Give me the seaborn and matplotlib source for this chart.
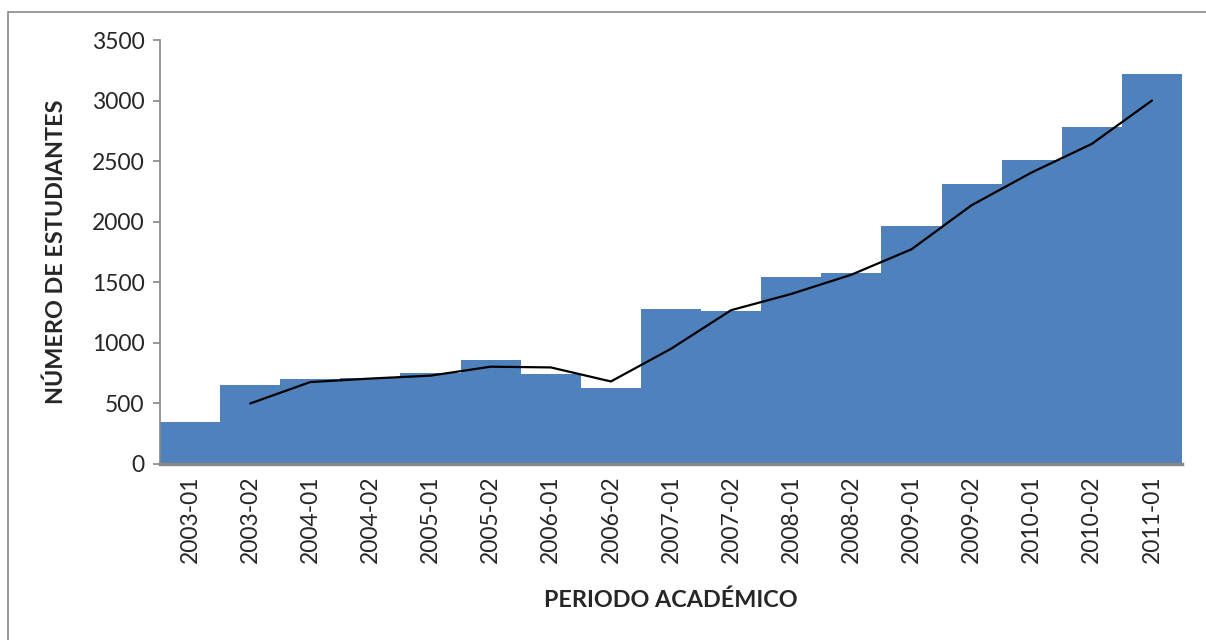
import numpy as np
import pandas as pd
import matplotlib
matplotlib.use('Agg')
import matplotlib.pyplot as plt
import seaborn as sns
from matplotlib.patches import Rectangle

# Datos
periodos = ['2003-01', '2003-02', '2004-01', '2004-02', '2005-01', '2005-02',
            '2006-01', '2006-02', '2007-01', '2007-02', '2008-01', '2008-02',
            '2009-01', '2009-02', '2010-01', '2010-02', '2011-01']
estudiantes = [350, 650, 705, 708, 752, 856, 740, 625, 1280, 1263,
               1547, 1582, 1966, 2310, 2508, 2782, 3224]
# media movil de 2 periodos (empieza en 2003-02)
media_movil = [500, 677, 706, 730, 804, 798, 682, 952, 1271,
               1405, 1564, 1774, 2138, 2409, 2645, 3003]

sns.set_style('white')
plt.rcParams['font.family'] = ['Lato', 'DejaVu Sans']

df = pd.DataFrame({'periodo': periodos, 'estudiantes': estudiantes})

fig = plt.figure(figsize=(12.06, 6.4), dpi=100)
ax = fig.add_axes([160 / 1206, 1 - 464 / 640, (1182 - 160) / 1206, 423.6 / 640])

sns.barplot(data=df, x='periodo', y='estudiantes', color='#4F81BD',
            saturation=1, width=1, linewidth=0, edgecolor='none', ax=ax)
sns.lineplot(x=np.arange(1, len(periodos)), y=media_movil, color='black',
             linewidth=1.6, ax=ax)

ax.set_xlim(-0.5, len(periodos) - 0.5)
ax.set_ylim(0, 3500)
ax.set_yticks(np.arange(0, 3501, 500))
ax.tick_params(axis='y', labelsize=16.5, length=5, width=1.2, color='#888888',
               direction='out', left=True, pad=6)
ax.tick_params(axis='x', labelsize=16.5, rotation=90, length=0, pad=8)
ax.set_xlabel('PERIODO ACADÉMICO', fontsize=16.8, fontweight='bold', labelpad=19)
ax.set_ylabel('NÚMERO DE ESTUDIANTES', fontsize=16.8, fontweight='bold', labelpad=18)

for s in ['top', 'right']:
    ax.spines[s].set_visible(False)
ax.spines['left'].set_color('#888888')
ax.spines['left'].set_linewidth(1.2)
ax.spines['bottom'].set_color('#888888')
ax.spines['bottom'].set_linewidth(2.5)

# marco del grafico (recortado a la derecha y abajo)
fig.patches.append(Rectangle((8 / 1206, -0.1), 1.2, 1 - 11.5 / 640 + 0.1,
                             transform=fig.transFigure, fill=False,
                             edgecolor='#888888', linewidth=1.2))

fig.savefig('out.png', dpi=100)
